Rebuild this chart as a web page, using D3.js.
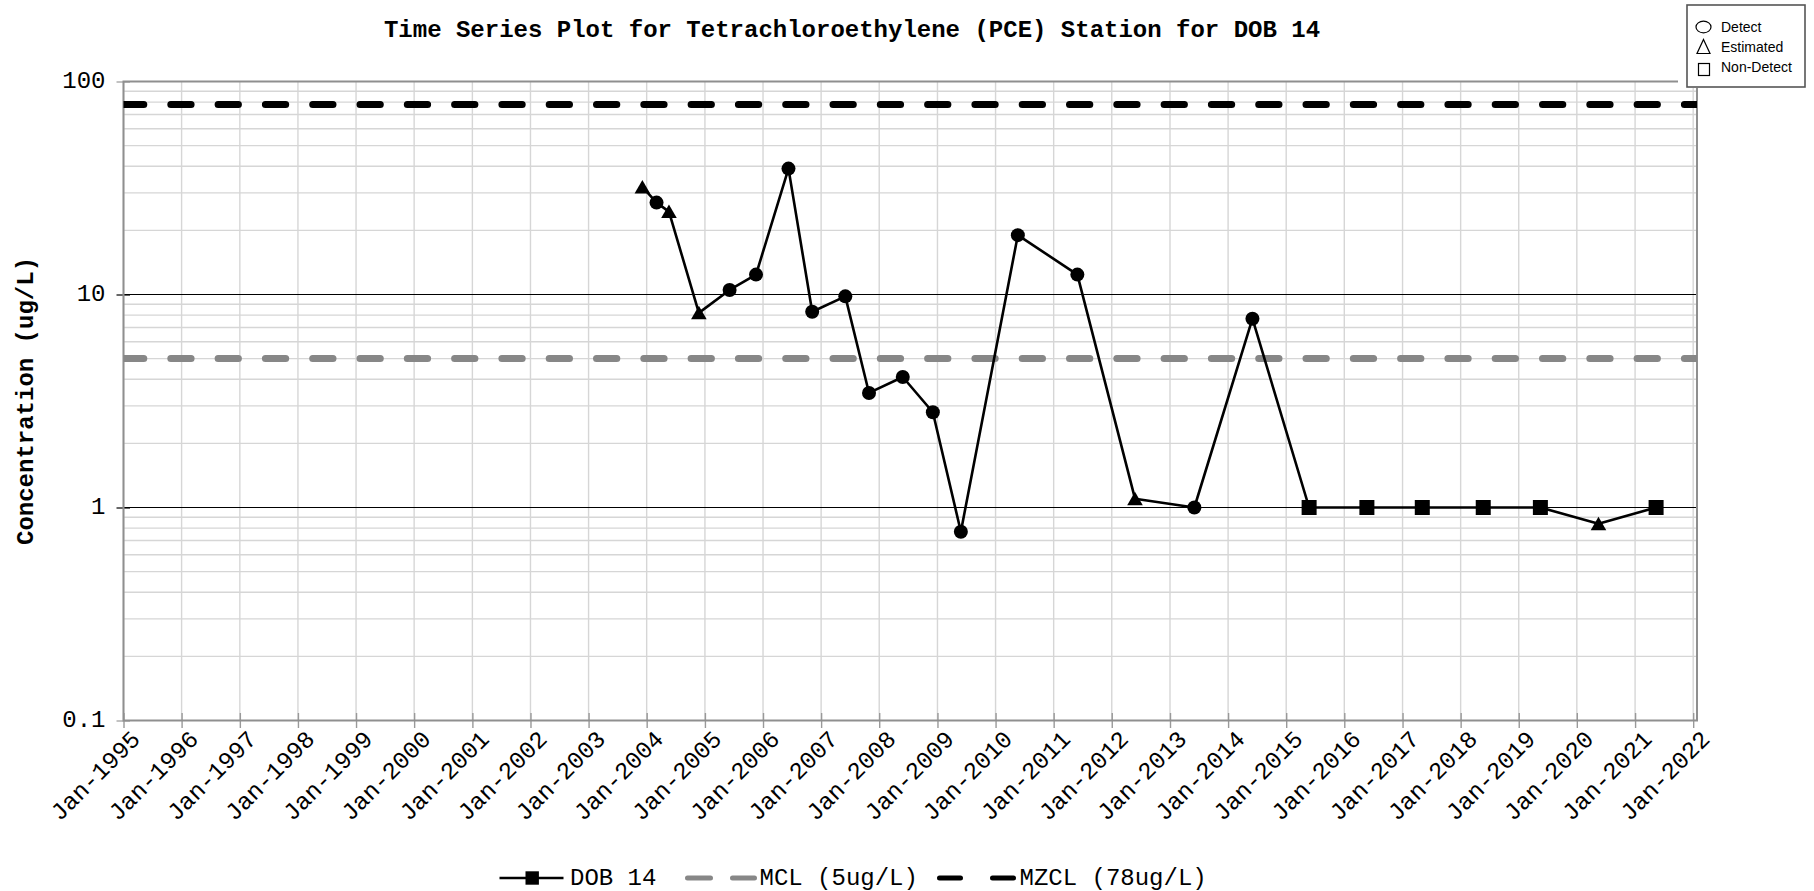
<!DOCTYPE html>
<html><head><meta charset="utf-8">
<script src="https://cdn.jsdelivr.net/npm/d3@7"></script>
<style>body{margin:0;background:#fff;}svg{display:block;}</style>
</head><body>
<svg id="chart" width="1814" height="891"></svg>
<script>
// ---- data ----
const sampleDates = ["2003-12-05","2004-03-03","2004-05-20","2004-11-24","2005-06-05","2005-11-18",
  "2006-06-10","2006-11-06","2007-06-02","2007-10-29","2008-05-28","2008-12-03","2009-05-28",
  "2010-05-21","2011-05-30","2012-05-26","2013-06-03","2014-06-03","2015-05-25","2016-05-22",
  "2017-05-05","2018-05-23","2019-05-17","2020-05-16","2021-05-13"];
const sampleValues = [32, 27, 24.5, 8.2, 10.5, 12.4, 39, 8.3, 9.8, 3.45, 4.1, 2.8, 0.77,
  19, 12.4, 1.1, 1.0, 7.7, 1, 1, 1, 1, 1, 0.84, 1];
const sampleTypes = ["Estimated","Detect","Estimated","Estimated","Detect","Detect","Detect","Detect",
  "Detect","Detect","Detect","Detect","Detect","Detect","Detect","Estimated","Detect","Detect",
  "Non-Detect","Non-Detect","Non-Detect","Non-Detect","Non-Detect","Estimated","Non-Detect"];
const xTickYears = [1995,1996,1997,1998,1999,2000,2001,2002,2003,2004,2005,2006,2007,2008,
  2009,2010,2011,2012,2013,2014,2015,2016,2017,2018,2019,2020,2021,2022];
const yTickValues = [0.1, 1, 10, 100];
const yTickLabels = ["0.1", "1", "10", "100"];
const limitNames = ["MCL (5ug/L)", "MZCL (78ug/L)"];
const limitValues = [5, 78];
const seriesName = "DOB 14";
const markerLegend = ["Detect", "Estimated", "Non-Detect"];
const titleText = "Time Series Plot for Tetrachloroethylene (PCE) Station for DOB 14";
const yAxisTitle = "Concentration (ug/L)";

// ---- layout ----
const svg = d3.select("#chart");
const L = 123.5, R = 1697, T = 81.5, B = 720.5;
const parse = d3.timeParse("%Y-%m-%d");
const x = d3.scaleTime().domain([new Date(1995,0,1), new Date(2022,0,25)]).range([L, R]);
const y = d3.scaleLog().domain([0.1, 100]).range([B, T]);
const mono = "'Liberation Mono', 'Cousine', monospace";
const gridCol = "#d6d6d6";

svg.append("defs").append("clipPath").attr("id","plotclip")
  .append("rect").attr("x",L).attr("y",T).attr("width",R-L).attr("height",B-T);

// vertical grid
const yearDates = xTickYears.map(yr => new Date(yr,0,1));
svg.append("g").selectAll("line").data(yearDates).join("line")
  .attr("x1", d=>x(d)).attr("x2", d=>x(d)).attr("y1", T).attr("y2", B)
  .attr("stroke", gridCol).attr("stroke-width", 1.4);

// minor horizontal grid
const minor = [];
[0.1, 1, 10].forEach(dec => { for (let k=2;k<=9;k++) minor.push(dec*k); });
svg.append("g").selectAll("line").data(minor).join("line")
  .attr("x1", L).attr("x2", R).attr("y1", d=>y(d)).attr("y2", d=>y(d))
  .attr("stroke", gridCol).attr("stroke-width", 1.4);

// major horizontal lines
svg.append("g").selectAll("line").data([1, 10]).join("line")
  .attr("x1", L).attr("x2", R).attr("y1", d=>y(d)).attr("y2", d=>y(d))
  .attr("stroke", "#000").attr("stroke-width", 1);

// x axis ticks + labels
const xAxis = svg.append("g").attr("transform", `translate(0,${B-7.5})`)
  .call(d3.axisBottom(x).tickValues(yearDates).tickSize(15).tickSizeOuter(0)
    .tickFormat(d3.timeFormat("%b-%Y")));
xAxis.select(".domain").remove();
xAxis.selectAll(".tick line").attr("stroke", "#999").attr("stroke-width", 1.4);
xAxis.selectAll(".tick text")
  .attr("x", 0).attr("y", 0).attr("dy", 0)
  .attr("transform", "translate(17.5,27.5) rotate(-45)")
  .attr("text-anchor", "end")
  .style("font-family", mono).style("font-size", "24px").attr("fill", "#000");

// y axis ticks + labels
const yAxis = svg.append("g").attr("transform", `translate(${L+6.5},0)`)
  .call(d3.axisLeft(y).tickValues(yTickValues).tickSize(13.5).tickSizeOuter(0)
    .tickFormat((d,i) => yTickLabels[i]));
yAxis.select(".domain").remove();
yAxis.selectAll(".tick line").attr("stroke", d => (d===1||d===10) ? "#000" : "#999").attr("stroke-width", 1.2);
yAxis.selectAll(".tick text").attr("x", -24.5).attr("dy", "6px")
  .style("font-family", mono).style("font-size", "24px").attr("fill", "#000");

// plot border
svg.append("rect").attr("x", L).attr("y", T).attr("width", R-L).attr("height", B-T)
  .attr("fill", "none").attr("stroke", "#8f8f8f").attr("stroke-width", 2);

// limit lines
const limitColors = ["#878787", "#000000"];
svg.append("g").attr("clip-path", "url(#plotclip)").selectAll("line").data(limitValues).join("line")
  .attr("x1", L).attr("x2", R).attr("y1", d=>y(d)).attr("y2", d=>y(d))
  .attr("stroke", (d,i)=>limitColors[i]).attr("stroke-width", 7)
  .attr("stroke-linecap", "round").attr("stroke-dasharray", "20.3,27");

// series
const pts = sampleDates.map((d,i) => ({date: parse(d), v: sampleValues[i], t: sampleTypes[i]}));
svg.append("path").datum(pts)
  .attr("d", d3.line().x(d=>x(d.date)).y(d=>y(d.v)))
  .attr("fill", "none").attr("stroke", "#000").attr("stroke-width", 2.6).attr("stroke-linejoin","round");

const mk = svg.append("g");
mk.selectAll("circle").data(pts.filter(p=>p.t==="Detect")).join("circle")
  .attr("cx", d=>x(d.date)).attr("cy", d=>y(d.v)).attr("r", 7).attr("fill", "#000");
mk.selectAll("path.tri").data(pts.filter(p=>p.t==="Estimated")).join("path").attr("class","tri")
  .attr("transform", d=>`translate(${x(d.date)},${y(d.v)})`)
  .attr("d", "M0,-7L7.8,6.5L-7.8,6.5Z").attr("fill", "#000");
mk.selectAll("rect").data(pts.filter(p=>p.t==="Non-Detect")).join("rect")
  .attr("x", d=>x(d.date)-7.5).attr("y", d=>y(d.v)-7.5).attr("width", 15).attr("height", 15).attr("fill", "#000");

// title
svg.append("text").attr("x", 852).attr("y", 36.5).attr("text-anchor", "middle")
  .style("font-family", mono).style("font-size", "24px").style("font-weight", "bold")
  .text(titleText);

// y axis title
svg.append("text").attr("transform", `translate(33,${(T+B)/2}) rotate(-90)`).attr("text-anchor", "middle")
  .style("font-family", mono).style("font-size", "24px").style("font-weight", "bold")
  .text(yAxisTitle);

// bottom legend
const lg = svg.append("g");
lg.append("line").attr("x1", 499.5).attr("x2", 563.5).attr("y1", 878).attr("y2", 878)
  .attr("stroke", "#000").attr("stroke-width", 2.6);
lg.append("rect").attr("x", 525.5).attr("y", 871.3).attr("width", 13.4).attr("height", 13.4).attr("fill", "#000");
lg.append("text").attr("x", 570).attr("y", 884.5).style("font-family", mono).style("font-size", "24px").text(seriesName);
lg.append("line").attr("x1", 687.5).attr("x2", 754.5).attr("y1", 878).attr("y2", 878)
  .attr("stroke", limitColors[0]).attr("stroke-width", 5).attr("stroke-linecap","round").attr("stroke-dasharray","23,22");
lg.append("text").attr("x", 759.5).attr("y", 884.5).style("font-family", mono).style("font-size", "24px").text(limitNames[0]);
lg.append("line").attr("x1", 939.5).attr("x2", 1014.5).attr("y1", 878).attr("y2", 878)
  .attr("stroke", limitColors[1]).attr("stroke-width", 5).attr("stroke-linecap","round").attr("stroke-dasharray","21,32");
lg.append("text").attr("x", 1019.5).attr("y", 884.5).style("font-family", mono).style("font-size", "24px").text(limitNames[1]);

// marker legend (top right)
const ml = svg.append("g");
ml.append("rect").attr("x", 1678).attr("y", 0).attr("width", 136).attr("height", 88).attr("fill", "#fff");
ml.append("rect").attr("x", 1687).attr("y", 5).attr("width", 118).attr("height", 82)
  .attr("fill", "#fff").attr("stroke", "#555").attr("stroke-width", 1.6);
const sans = "'Liberation Sans', Arial, sans-serif";
ml.append("ellipse").attr("cx", 1703.5).attr("cy", 27).attr("rx", 7.5).attr("ry", 5.8)
  .attr("fill", "none").attr("stroke", "#000").attr("stroke-width", 1.2);
ml.append("path").attr("transform", "translate(1703.5,47)").attr("d", "M0,-7.5L6.5,6.5L-6.5,6.5Z")
  .attr("fill", "none").attr("stroke", "#000").attr("stroke-width", 1.2);
ml.append("rect").attr("x", 1698.5).attr("y", 63.5).attr("width", 11).attr("height", 12)
  .attr("fill", "none").attr("stroke", "#000").attr("stroke-width", 1.2);
ml.selectAll("text").data(markerLegend).join("text")
  .attr("x", 1721).attr("y", (d,i)=>32 + i*20)
  .style("font-family", sans).style("font-size", "14px").attr("fill", "#000").text(d=>d);
</script>
</body></html>
